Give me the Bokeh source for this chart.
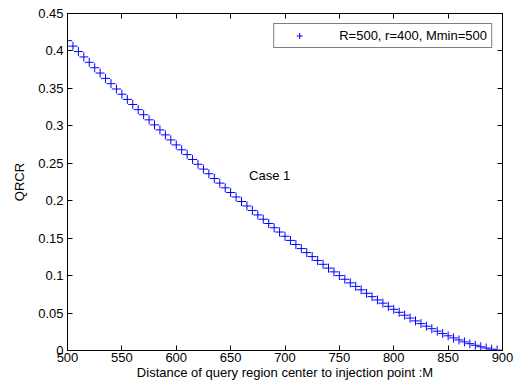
from bokeh.plotting import figure
from bokeh.models import Range1d, FixedTicker, LinearAxis, Label, Legend, LegendItem
from bokeh.embed import file_html
from bokeh.resources import INLINE

# ---- data ----
distance = list(range(500, 905, 5))
qrcr = [
    0.4137, 0.4064, 0.3992, 0.3920, 0.3848,
    0.3776, 0.3705, 0.3634, 0.3563, 0.3492,
    0.3422, 0.3353, 0.3285, 0.3216, 0.3148,
    0.3080, 0.3013, 0.2946, 0.2879, 0.2812,
    0.2745, 0.2680, 0.2616, 0.2551, 0.2487,
    0.2422, 0.2360, 0.2297, 0.2235, 0.2172,
    0.2110, 0.2050, 0.1990, 0.1930, 0.1870,
    0.1810, 0.1753, 0.1696, 0.1639, 0.1582,
    0.1525, 0.1470, 0.1415, 0.1361, 0.1307,
    0.1254, 0.1202, 0.1151, 0.1100, 0.1050,
    0.1000, 0.0951, 0.0903, 0.0856, 0.0810,
    0.0764, 0.0719, 0.0675, 0.0632, 0.0590,
    0.0550, 0.0510, 0.0471, 0.0433, 0.0395,
    0.0359, 0.0325, 0.0291, 0.0258, 0.0226,
    0.0196, 0.0168, 0.0141, 0.0115, 0.0091,
    0.0070, 0.0050, 0.0033, 0.0018, 0.0006,
    0.0,
]
series_label = "R=500, r=400, Mmin=500"
x_ticks = [500, 550, 600, 650, 700, 750, 800, 850, 900]
y_ticks = [0, 0.05, 0.1, 0.15, 0.2, 0.25, 0.3, 0.35, 0.4, 0.45]
y_tick_labels = ["0", "0.05", "0.1", "0.15", "0.2", "0.25", "0.3", "0.35", "0.4", "0.45"]
x_title = "Distance of query region center to injection point :M"
y_title = "QRCR"
note_text = "Case 1"
note_x, note_y = 667, 0.2336

FONT = "Liberation Sans"
FS = "13px"

p = figure(width=514, height=382, output_backend="svg", toolbar_location=None,
           x_range=Range1d(500, 900), y_range=Range1d(0, 0.45),
           min_border_left=67, min_border_right=12, min_border_top=13, min_border_bottom=30,
           background_fill_color="white", border_fill_color="white")
p.grid.visible = False
p.outline_line_color = "black"
p.outline_line_width = 1

def style_axis(ax, show_labels=True):
    ax.major_tick_in = 5
    ax.major_tick_out = 0
    ax.minor_tick_line_color = None
    ax.axis_line_color = "black"
    ax.major_tick_line_color = "black"
    ax.major_label_text_font = FONT
    ax.major_label_text_color = "black"
    ax.major_label_text_font_size = FS
    ax.axis_label_text_font = FONT
    ax.axis_label_text_font_size = FS
    ax.axis_label_text_font_style = "normal"
    ax.axis_label_text_color = "black"
    if show_labels:
        ax.major_label_standoff = 4
    else:
        ax.major_label_standoff = 0

xb = p.xaxis[0]
yl = p.yaxis[0]
xb.ticker = FixedTicker(ticks=x_ticks)
yl.ticker = FixedTicker(ticks=y_ticks)
yl.major_label_overrides = {t: s for t, s in zip(y_ticks, y_tick_labels)}
style_axis(xb)
style_axis(yl)
xb.axis_label = x_title
yl.axis_label = y_title
xb.major_label_standoff = 2
xb.axis_label_standoff = 0
yl.axis_label_standoff = 8

# box ticks on top and right (no labels)
xt = LinearAxis(ticker=FixedTicker(ticks=x_ticks))
yr = LinearAxis(ticker=FixedTicker(ticks=y_ticks))
style_axis(xt, False)
style_axis(yr, False)
xt.major_label_overrides = {t: "" for t in x_ticks}
yr.major_label_overrides = {t: "" for t in y_ticks}
p.add_layout(xt, "above")
p.add_layout(yr, "right")

r = p.scatter(distance, qrcr, marker="cross", size=9, line_color="#0000ff", line_width=1)

legend = Legend(items=[LegendItem(label=series_label, renderers=[r])], location="top_right")
legend.label_text_font = FONT
legend.label_text_font_size = FS
legend.label_text_color = "black"
legend.glyph_width = 42
legend.glyph_height = 15
legend.label_height = 15
legend.label_standoff = 19
legend.padding = 4
legend.margin = 10
legend.spacing = 0
legend.border_line_color = "black"
legend.border_line_width = 1
legend.background_fill_color = "white"
legend.background_fill_alpha = 1
p.add_layout(legend, "center")

p.add_layout(Label(x=note_x, y=note_y, text=note_text, text_font=FONT, text_font_size=FS,
                   text_baseline="middle", text_align="left", text_color="black"))

open("out.html", "w").write(file_html(p, INLINE))
